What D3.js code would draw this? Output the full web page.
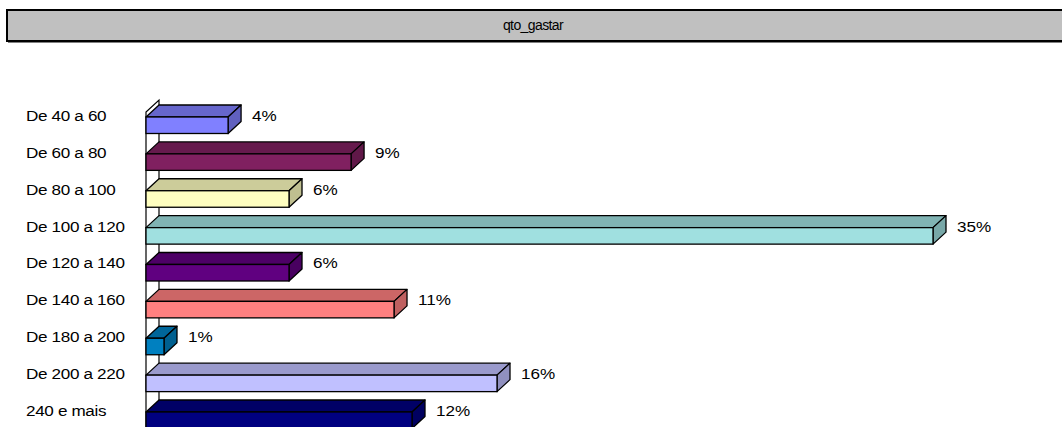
<!DOCTYPE html>
<html lang="pt">
<head>
    <title>qto_gastar</title>
    <style>
        body, html { margin: 0; height: 100%; overflow: hidden; background: #fff; }
        svg { display: block; }
        text { font-family: "Liberation Sans", Arial, sans-serif; font-size: 15px; fill: #000; }
    </style>
    <script src="https://d3js.org/d3.v7.min.js"></script>
</head>
<body>
    <svg></svg>

    <script>
        const categories = ["De 40 a 60", "De 60 a 80", "De 80 a 100", "De 100 a 120", "De 120 a 140",
                            "De 140 a 160", "De 180 a 200", "De 200 a 220", "240 e mais"];
        const values = [3.65, 9.12, 6.36, 35, 6.36, 11.03, 0.8, 15.61, 11.83];
        const frontColors = ["#8080ff", "#802060", "#ffffc0", "#a0e0e0", "#600080",
                             "#ff8080", "#0080c0", "#c0c0ff", "#000080"];

        const width = 1062, height = 427;
        const depthX = 13, depthY = 12, frontH = 16.5;
        const stretch = 1.14;   // the original text is a bit wider than Arial

        const svg = d3.select("svg").attr("width", width).attr("height", height);

        // title bar
        svg.append("rect")
            .attr("x", 7).attr("y", 10)
            .attr("width", 1070).attr("height", 31)
            .attr("fill", "#c0c0c0")
            .attr("stroke", "#000").attr("stroke-width", 2);
        svg.append("line")
            .attr("x1", 8).attr("x2", 1070).attr("y1", 42.5).attr("y2", 42.5)
            .attr("stroke", "#808080").attr("stroke-width", 1);
        svg.append("text")
            .attr("transform", "translate(533,26)")
            .attr("text-anchor", "middle")
            .attr("dominant-baseline", "middle")
            .style("font-size", "14px")
            .style("letter-spacing", "-0.6px")
            .text("qto_gastar");

        const x = d3.scaleLinear().domain([0, 35]).range([146, 933]);
        const y = d3.scaleBand().domain(categories).range([101, 101 + 9 * 36.875]).padding(0);

        const x0 = x(0);

        // side wall
        svg.append("path")
            .attr("d", `M${x0},${height + 5} V${y(categories[0]) + 11} L${x0 + depthX},${y(categories[0]) - 1} V${height + 5}`)
            .attr("stroke", "#000").attr("stroke-width", 1.2).attr("fill", "none");

        const shade = (c, k) => {
            const col = d3.rgb(c);
            return d3.rgb(col.r * k, col.g * k, col.b * k).formatHex();
        };

        const bars = svg.append("g").selectAll("g")
            .data(categories.map((c, i) => ({ cat: c, v: values[i], color: frontColors[i] })))
            .join("g");

        bars.each(function(d) {
            const g = d3.select(this);
            const top = y(d.cat) + 16;          // front face top
            const bottom = top + frontH;
            const x1 = x(d.v);
            // top face
            g.append("path")
                .attr("d", `M${x0},${top} L${x0 + depthX},${top - depthY} L${x1 + depthX},${top - depthY} L${x1},${top} Z`)
                .attr("fill", shade(d.color, 0.8))
                .attr("stroke", "#000").attr("stroke-width", 1.3).attr("stroke-linejoin", "round");
            // side face
            g.append("path")
                .attr("d", `M${x1},${top} L${x1 + depthX},${top - depthY} L${x1 + depthX},${bottom - depthY} L${x1},${bottom} Z`)
                .attr("fill", shade(d.color, 0.75))
                .attr("stroke", "#000").attr("stroke-width", 1.3).attr("stroke-linejoin", "round");
            // front face
            g.append("rect")
                .attr("x", x0).attr("y", top)
                .attr("width", x1 - x0).attr("height", frontH)
                .attr("fill", d.color)
                .attr("stroke", "#000").attr("stroke-width", 1.3);
            // value label
            g.append("text")
                .attr("transform", `translate(${x1 + depthX + 11},${top}) scale(${stretch},1)`)
                .attr("dominant-baseline", "middle")
                .text(Math.round(d.v) + "%");
        });

        // category labels
        svg.append("g").selectAll("text")
            .data(categories)
            .join("text")
            .attr("transform", d => `translate(26,${y(d) + 16}) scale(${stretch},1)`)
            .attr("dominant-baseline", "middle")
            .style("letter-spacing", "-0.3px")
            .text(d => d);
    </script>
</body>
</html>
